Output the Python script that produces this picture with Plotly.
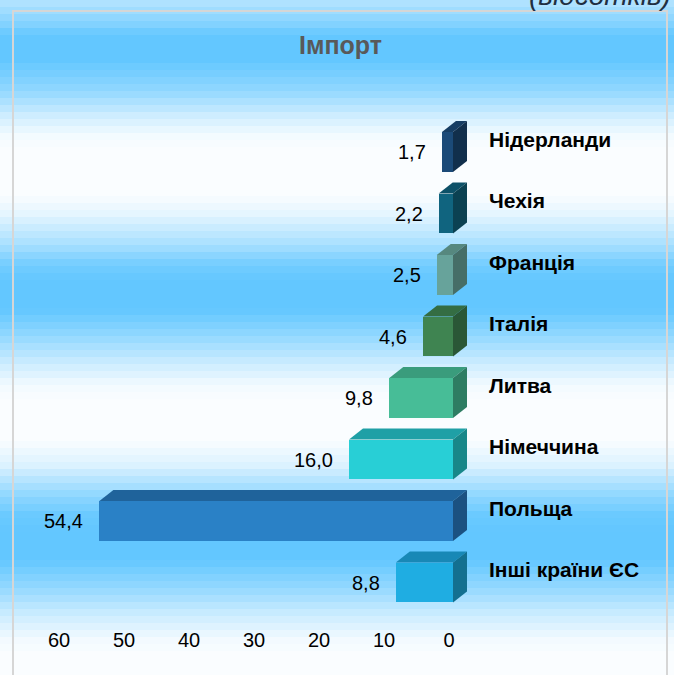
import numpy as np
import plotly.graph_objects as go

# ---------------- data ----------------
categories = ["Нідерланди", "Чехія", "Франція", "Італія", "Литва", "Німеччина", "Польща", "Інші країни ЄС"]
values = [1.7, 2.2, 2.5, 4.6, 9.8, 16.0, 54.4, 8.8]
x_ticks = [60, 50, 40, 30, 20, 10, 0]
title_text = "Імпорт"
unit_text = "(відсотків)"

# ---------------- styles ----------------
front_colors = ["#1b4a78", "#10647f", "#67a39b", "#3f8451", "#47bd97", "#28cfd6", "#2a81c6", "#1fade2"]
top_colors = ["#163d63", "#0d5168", "#56887f", "#346d43", "#3a9c7c", "#1fa0a6", "#1f639b", "#1888b6"]
side_colors = ["#112f4c", "#0b4152", "#466e67", "#2a5736", "#2e7d63", "#188789", "#1b5181", "#137090"]

W, H = 674, 675
ML, MR, MT, MB = 30, 205, 100, 60
PW, PH = W - ML - MR, H - MT - MB
PX_PER_X = 6.5
PX_PER_Y = 61.5
x0_px = 453
x_left = (x0_px - ML) / PX_PER_X
x_right = x_left - PW / PX_PER_X
y_top = -(152 - MT) / PX_PER_Y
y_bot = y_top + PH / PX_PER_Y

bar_w = 0.65
dx = 14 / PX_PER_X      # depth offset in x units (toward right = smaller x)
dy = 11 / PX_PER_Y      # depth offset in y units (up = smaller index)


def px_to_paper_x(px):
    return (px - ML) / PW


def px_to_paper_y(py):
    return (H - MB - py) / PH


idx = list(range(len(categories)))

fig = go.Figure()

# front faces
fig.add_trace(go.Bar(
    orientation="h", x=values, y=idx, width=bar_w,
    marker=dict(color=front_colors, line=dict(width=0)),
    hoverinfo="skip", showlegend=False,
))

# top and side faces (3-D effect)
for i, v in enumerate(values):
    yt = i - bar_w / 2
    yb = i + bar_w / 2
    fig.add_trace(go.Scatter(
        x=[v, 0, -dx, v - dx, v], y=[yt, yt, yt - dy, yt - dy, yt],
        fill="toself", fillcolor=top_colors[i], mode="lines", line=dict(width=0),
        hoverinfo="skip", showlegend=False,
    ))
    fig.add_trace(go.Scatter(
        x=[0, 0, -dx, -dx, 0], y=[yt, yb, yb - dy, yt - dy, yt],
        fill="toself", fillcolor=side_colors[i], mode="lines", line=dict(width=0),
        hoverinfo="skip", showlegend=False,
    ))

# ---------------- background stripes ----------------
key_y = [0, 25, 35, 60, 90, 115, 135, 150, 195, 215, 245, 265, 280, 310, 335, 360, 385, 400,
         440, 465, 495, 515, 530, 560, 590, 615, 640, 655, 675]
key_t = [0.45, 0.8, 1, 1, 0.7, 0.3, 0.05, 0, 0, 0.15, 0.55, 0.9, 1, 1, 0.7, 0.35, 0.05, 0,
         0, 0.2, 0.7, 0.95, 1, 1, 0.65, 0.3, 0.05, 0, 0]
blue = np.array([99, 199, 255])
white = np.array([250, 253, 255])
shapes = []
band = 7
for py in range(0, H, band):
    t = float(np.interp(py + band / 2, key_y, key_t))
    c = (white + (blue - white) * t).round().astype(int)
    shapes.append(dict(
        type="rect", xref="paper", yref="paper", layer="below",
        x0=px_to_paper_x(0), x1=px_to_paper_x(W),
        y0=px_to_paper_y(py + band), y1=px_to_paper_y(py),
        fillcolor=f"rgb({c[0]},{c[1]},{c[2]})", line=dict(width=0),
    ))
# frame
shapes.append(dict(
    type="rect", xref="paper", yref="paper", layer="below",
    x0=px_to_paper_x(13), x1=px_to_paper_x(667),
    y0=px_to_paper_y(700), y1=px_to_paper_y(11),
    fillcolor="rgba(0,0,0,0)", line=dict(color="#d6d6d6", width=2),
))

annotations = []
for i, v in enumerate(values):
    annotations.append(dict(
        x=v, y=i, xref="x", yref="y", text=f"{v:.1f}".replace(".", ","),
        showarrow=False, xanchor="right", yanchor="middle", xshift=-14,
        font=dict(family="Liberation Sans, Arial, sans-serif", size=20, color="#000000"),
    ))
    annotations.append(dict(
        x=0, y=i, xref="x", yref="y", text=f"<b>{categories[i]}</b>",
        showarrow=False, xanchor="left", yanchor="middle", xshift=34, yshift=13,
        font=dict(family="Liberation Sans, Arial, sans-serif", size=21, color="#000000"),
    ))
annotations.append(dict(
    x=px_to_paper_x(340), y=px_to_paper_y(45), xref="paper", yref="paper", text=f"<b>{title_text}</b>",
    showarrow=False, xanchor="center", yanchor="middle",
    font=dict(family="Liberation Sans, Arial, sans-serif", size=25, color="#595959"),
))
annotations.append(dict(
    x=px_to_paper_x(673), y=px_to_paper_y(-5), xref="paper", yref="paper", text=f"<i>{unit_text}</i>",
    showarrow=False, xanchor="right", yanchor="middle",
    font=dict(family="Liberation Sans, Arial, sans-serif", size=28, color="#1f2f42"),
))

fig.update_layout(
    width=W, height=H,
    margin=dict(l=ML, r=MR, t=MT, b=MB),
    paper_bgcolor="#ffffff", plot_bgcolor="rgba(0,0,0,0)",
    shapes=shapes, annotations=annotations,
    bargap=0, showlegend=False,
)
fig.update_xaxes(
    range=[x_left, x_right], tickvals=x_ticks, ticktext=[str(t) for t in x_ticks],
    showgrid=False, zeroline=False, showline=False, ticks="",
    tickfont=dict(family="Liberation Sans, Arial, sans-serif", size=20, color="#000000"),
    ticklabelshift=4, ticklabelstandoff=11,
)
fig.update_yaxes(
    range=[y_bot, y_top], showgrid=False, zeroline=False, showline=False,
    showticklabels=False, ticks="",
)

fig.write_html(
    "out.html",
    config={"displayModeBar": False},
    post_script="document.body.style.margin='0';document.body.style.overflow='hidden';",
)
